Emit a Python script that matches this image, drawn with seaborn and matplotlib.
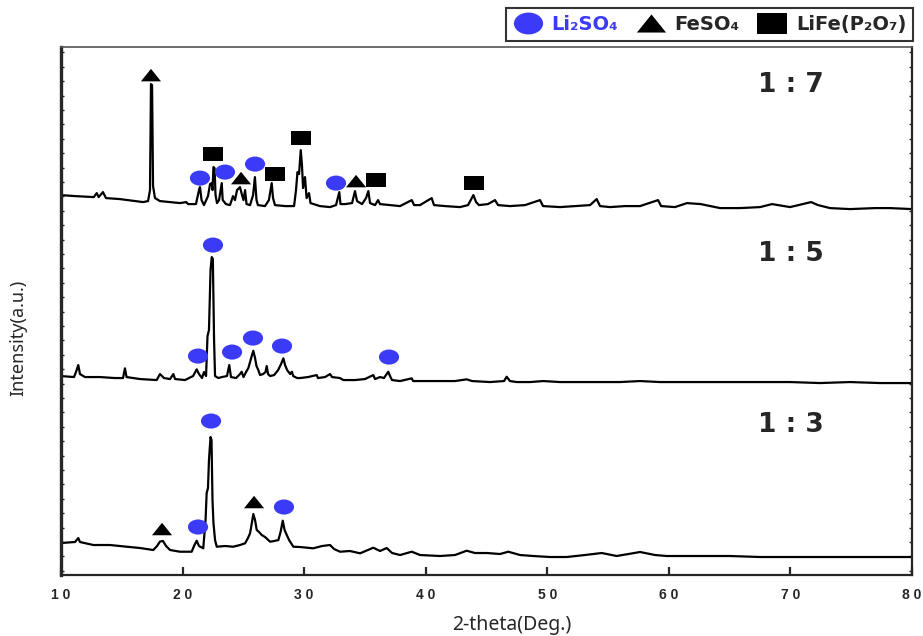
import matplotlib
matplotlib.use('Agg')
import matplotlib.pyplot as plt
from matplotlib.path import Path
from matplotlib.lines import Line2D
from matplotlib.transforms import Affine2D
import numpy as np
import seaborn as sns

# ---------------------------------------------------------------------
# XRD patterns (2-theta in degrees, intensity in a.u. above each offset)
# ---------------------------------------------------------------------
theta_17 = [10.0, 11.15, 12.7, 12.94, 13.1, 13.45, 13.7, 14.85, 16.75, 17.16,
            17.32, 17.40, 17.49, 17.57, 17.73, 18.14, 19.79, 20.3, 20.45, 21.1,
            21.35, 21.43, 21.56, 21.76, 22.09, 22.26, 22.39, 22.46, 22.54, 22.63,
            22.71, 22.83, 23.0, 23.22, 23.3, 23.57, 23.9, 24.15, 24.31, 24.48,
            24.72, 24.89, 25.01, 25.14, 25.26, 25.55, 25.8, 25.95, 26.08, 26.2,
            26.78, 27.1, 27.33, 27.44, 27.6, 28.43, 29.17, 29.33, 29.45, 29.58,
            29.72, 29.82, 29.91, 30.07, 30.2, 30.4, 30.52, 31.3, 32.13, 32.62,
            32.89, 32.99, 33.36, 33.94, 34.18, 34.35, 34.76, 35.09, 35.28, 35.42,
            35.83, 36.08, 36.24, 37.06, 37.89, 38.85, 39.04, 39.53, 40.49, 40.68,
            41.59, 42.82, 43.48, 43.92, 44.14, 44.38, 45.12, 45.7, 45.95, 46.93,
            48.17, 49.4, 49.65, 51.05, 52.28, 53.52, 54.06, 54.34, 55.16, 56.39,
            57.63, 59.11, 59.36, 60.5, 61.49, 62.62, 64.21, 65.85, 67.5, 68.49,
            69.97, 71.7, 72.27, 73.26, 74.9, 76.96, 78.19, 80.0]
inten_17 = [20, 19, 18, 22, 18, 23, 17, 16, 13, 14,
            25, 131, 130, 29, 17, 14, 12, 13, 11, 11,
            25, 28, 15, 10, 19, 31, 32, 25, 48, 47,
            20, 12, 15, 32, 15, 11, 10, 19, 15, 25,
            28, 20, 15, 25, 11, 10, 20, 38, 15, 10,
            9, 15, 32, 17, 10, 9, 9, 25, 43, 41,
            65, 50, 27, 38, 17, 22, 12, 9, 8, 10,
            23, 11, 11, 12, 24, 14, 11, 17, 24, 12,
            10, 15, 11, 10, 9, 15, 10, 10, 17, 10,
            9, 8, 10, 20, 13, 10, 11, 15, 10, 9,
            10, 15, 9, 8, 9, 10, 16, 9, 8, 9,
            9, 15, 9, 8, 12, 11, 7, 7, 8, 11,
            8, 13, 10, 7, 6, 7, 7, 6]

theta_15 = [10.0, 11.07, 11.23, 11.42, 11.56, 11.97, 13.21, 14.44, 15.1, 15.26,
            15.39, 16.5, 17.87, 18.14, 18.47, 18.97, 19.24, 19.38, 20.2, 20.86,
            21.16, 21.35, 21.6, 21.76, 21.93, 22.05, 22.17, 22.3, 22.4, 22.49,
            22.59, 22.67, 22.94, 23.24, 23.65, 23.84, 23.98, 24.4, 24.72, 24.86,
            25.01, 25.22, 25.41, 25.55, 25.71, 25.82, 25.96, 26.08, 26.23, 26.37,
            26.62, 26.82, 26.92, 27.03, 27.2, 27.53, 27.86, 28.1, 28.29, 28.43,
            28.6, 28.85, 28.99, 29.1, 29.42, 29.66, 30.32, 31.03, 31.14, 31.72,
            32.13, 32.29, 32.95, 33.22, 34.18, 35.0, 35.69, 35.83, 36.24, 36.56,
            36.92, 37.06, 37.23, 37.89, 38.85, 38.96, 39.94, 41.17, 42.41, 43.37,
            43.81, 45.29, 46.44, 46.66, 46.93, 47.48, 48.58, 49.67, 51.05, 53.24,
            54.34, 55.98, 57.63, 59.27, 60.91, 62.56, 65.03, 67.5, 69.97, 72.43,
            74.9, 77.37, 80.0]
inten_15 = [9, 8, 13, 20, 11, 8, 8, 7, 7, 16.7,
            8, 6, 5, 11, 7, 6, 11, 6, 5, 9,
            15.7, 11, 7, 13, 9, 49, 55, 115, 128, 126,
            45, 9, 7, 8, 9, 20, 8, 7, 11, 13.3,
            8, 13, 17, 23, 30, 34.3, 27, 19, 15, 10,
            11, 13, 19, 11, 9, 10, 15, 21, 26.7, 20,
            15, 11, 13.3, 9, 7, 7, 8, 10, 7, 8,
            11, 8, 7, 5, 5, 6, 10, 6, 8, 7,
            13.3, 9, 5, 4, 6.7, 4, 4, 4, 4, 5.7,
            4, 3, 4, 8.3, 4, 3, 3, 4, 3, 3,
            3, 3, 4, 3, 3, 3, 3, 3, 3, 2,
            3, 2, 2]

theta_13 = [10.0, 11.15, 11.42, 11.56, 12.66, 14.03, 15.4, 16.5, 17.59, 17.9,
            18.14, 18.39, 18.64, 18.97, 19.79, 20.75, 20.94, 21.16, 21.35, 21.7,
            21.89, 21.98, 22.09, 22.17, 22.3, 22.38, 22.46, 22.54, 22.67, 22.81,
            23.49, 24.17, 24.72, 25.14, 25.38, 25.55, 25.71, 25.82, 25.96, 26.1,
            26.29, 26.51, 26.78, 27.2, 27.53, 27.88, 28.06, 28.24, 28.39, 28.57,
            28.76, 29.11, 29.66, 30.75, 31.47, 32.13, 32.46, 32.95, 33.77, 34.6,
            35.69, 36.24, 36.79, 37.23, 37.89, 38.85, 39.53, 41.17, 42.41, 43.37,
            44.05, 45.02, 46.11, 46.79, 47.76, 48.85, 50.22, 51.6, 53.1, 54.48,
            55.71, 57.63, 58.86, 59.82, 62.56, 65.03, 67.5, 69.97, 72.43, 74.9,
            77.37, 80.0]
inten_13 = [17, 18, 22, 18, 15, 15, 13.3, 12, 10, 14,
            18.5, 19, 14, 10, 8.3, 8.3, 14, 19.3, 14, 11.7,
            40, 67, 72, 100, 123, 120, 60, 37, 20, 13.3,
            14, 13.3, 15, 16.7, 22, 26.7, 38, 46, 40, 30,
            28, 25, 23, 18.3, 19, 20, 28, 39.3, 30, 25,
            20, 13.3, 13, 11.7, 14, 15, 11, 8.3, 9, 6.7,
            12.3, 9, 12, 7, 5, 8.3, 5, 4, 5, 9.3,
            7, 7, 6, 8.3, 5, 4, 3, 3, 5, 7,
            4, 8, 5, 4, 4, 4, 3, 3, 3, 3,
            3, 3]

ratio_labels = ['1 : 7', '1 : 5', '1 : 3']
offsets = [360, 190, 15]

# phase markers (2-theta, stacked intensity)
li2so4_x = [21.43, 23.49, 25.96, 32.62, 22.5, 21.27, 24.07, 25.79, 28.18, 36.98, 22.34, 21.27, 28.34]
li2so4_y = [397, 403, 411, 392, 330, 219, 223, 237, 229, 218, 154, 48, 68]
feso4_x = [17.4, 24.81, 34.27, 18.31, 25.88]
feso4_y = [500, 397, 394, 46, 73]
lifep2o7_x = [22.5, 27.6, 29.74, 35.91, 43.97]
lifep2o7_y = [421, 401, 437, 395, 392]

legend_labels = ['Li\u2082SO\u2084', 'FeSO\u2084', 'LiFe(P\u2082O\u2087)']
BLUE = '#3b3bf7'

# marker shapes (wider than tall, as in the figure)
ellipse = Path.unit_circle().transformed(Affine2D().scale(1.0, 0.75))
triangle = Path([(-1, -0.62), (1, -0.62), (0, 0.62), (-1, -0.62)], closed=True)
rect = Path([(-1, -0.72), (1, -0.72), (1, 0.72), (-1, 0.72), (-1, -0.72)], closed=True)

sns.set_style('ticks')
plt.rcParams['font.family'] = ['DejaVu Sans']

fig = plt.figure(figsize=(9.23, 6.36), dpi=100)
ax = fig.add_axes([0.0661, 0.0959, 0.922, 0.830])

traces = [(theta_17, inten_17), (theta_15, inten_15), (theta_13, inten_13)]
for (tx, ty), off in zip(traces, offsets):
    sns.lineplot(x=tx, y=np.array(ty) + off, ax=ax, color='black', lw=1.6,
                 estimator=None, sort=False, zorder=2)

msize = 14.5 ** 2
sns.scatterplot(x=li2so4_x, y=li2so4_y, ax=ax, marker=ellipse, s=msize,
                color=BLUE, edgecolor='none', linewidth=0, zorder=3)
sns.scatterplot(x=feso4_x, y=feso4_y, ax=ax, marker=triangle, s=msize,
                color='black', edgecolor='none', linewidth=0, zorder=3)
sns.scatterplot(x=lifep2o7_x, y=lifep2o7_y, ax=ax, marker=rect, s=msize,
                color='black', edgecolor='none', linewidth=0, zorder=3)

for lab, ypos in zip(ratio_labels, [490, 321, 150]):
    ax.text(70.0, ypos, lab, ha='center', va='center', fontsize=19,
            fontweight='bold', family='DejaVu Sans')

ax.set_xlim(10, 80)
ax.set_ylim(0, 528)
ax.set_xticks(range(10, 81, 10))
ax.set_xticklabels([' '.join(str(v)) for v in range(10, 81, 10)],
                   fontsize=10, fontweight='bold', family='Liberation Sans')
ax.set_yticks(np.arange(4.3, 528, 14.4))
ax.set_yticklabels([])
ax.tick_params(axis='x', direction='in', length=6, width=1.6, pad=9, top=False)
ax.tick_params(axis='y', direction='in', length=2.5, width=1.0, left=True, right=True)

ax.spines['left'].set_linewidth(2.4)
ax.spines['bottom'].set_linewidth(1.6)
ax.spines['right'].set_linewidth(1.6)
ax.spines['top'].set_linewidth(1.2)
ax.spines['top'].set_color('#555555')

ax.set_xlabel('2-theta(Deg.)', fontsize=14, family='Noto Sans')
ax.xaxis.set_label_coords(0.53, -0.075)
ax.set_ylabel('Intensity(a.u.)', fontsize=13, family='Noto Sans')
ax.yaxis.set_label_coords(-0.040, 0.45)

handles = [
    Line2D([], [], linestyle='none', marker=ellipse, markersize=21, color=BLUE, markeredgewidth=0),
    Line2D([], [], linestyle='none', marker=triangle, markersize=21, color='black', markeredgewidth=0),
    Line2D([], [], linestyle='none', marker=rect, markersize=21, color='black', markeredgewidth=0),
]
leg = fig.legend(handles, legend_labels, loc='upper right', ncol=3,
                 bbox_to_anchor=(913 / 923, 1 - 8 / 636), borderaxespad=0,
                 frameon=True, fancybox=False, edgecolor='black', handlelength=1.5,
                 handletextpad=0.45, columnspacing=0.95, borderpad=0.35,
                 prop={'family': 'DejaVu Sans', 'weight': 'bold', 'size': 14})
leg.get_frame().set_linewidth(1.5)
leg.get_texts()[0].set_color(BLUE)

fig.savefig('out.png', dpi=100)
